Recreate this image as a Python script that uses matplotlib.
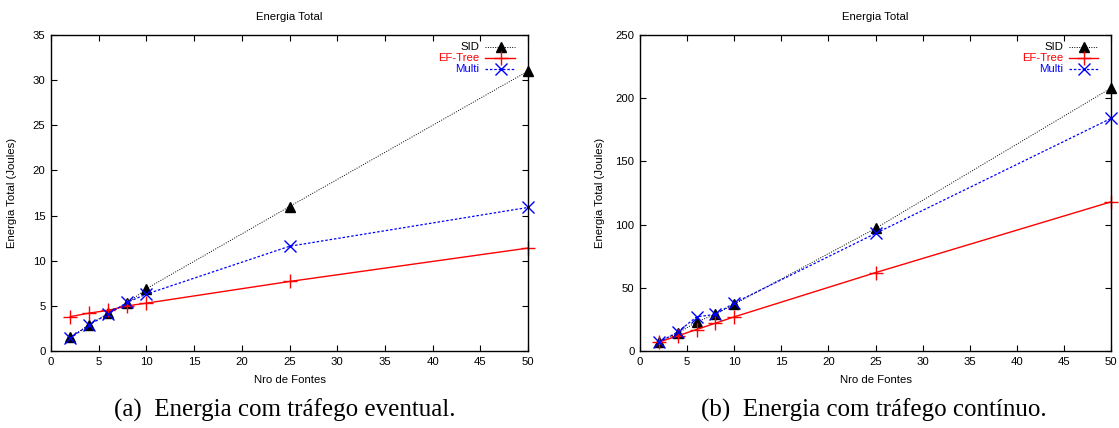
import matplotlib
matplotlib.use("Agg")
import matplotlib.pyplot as plt
from matplotlib.lines import Line2D

x_fontes = [2, 4, 6, 8, 10, 25, 50]

# (a) tráfego eventual
sid_a = [1.5, 2.9, 4.2, 5.3, 6.9, 16.0, 31.0]
eftree_a = [3.8, 4.2, 4.5, 5.0, 5.3, 7.7, 11.4]
multi_a = [1.4, 2.9, 4.1, 5.4, 6.3, 11.6, 15.9]

# (b) tráfego contínuo
sid_b = [7, 14, 23, 29, 37, 97, 208]
eftree_b = [7, 12, 17, 22, 27, 62, 118]
multi_b = [7, 15, 27, 29, 38, 93, 184]

series_names = ["SID", "EF-Tree", "Multi"]
title = "Energia Total"
xlabel = "Nro de Fontes"
ylabel = "Energia Total (Joules)"
captions = ["(a)  Energia com tráfego eventual.", "(b)  Energia com tráfego contínuo."]

plt.rcParams['font.family'] = ['Liberation Sans', 'DejaVu Sans']

fig = plt.figure(figsize=(11.19, 4.28), dpi=100)

FS = 8.2

styles = [
    dict(color='black', ls=(0, (1, 1.5)), lw=0.7, marker='^', ms=7, mfc='black', mec='black'),
    dict(color='red', ls='-', lw=1.0, marker='+', ms=10, mew=1.0),
    dict(color='blue', ls=(0, (2, 1.5)), lw=0.9, marker='x', ms=8.5, mew=1.0),
]

def draw(ax, ys, ylim, yticks, ylab_x):
    for y, st in zip(ys, styles):
        ax.plot(x_fontes, y, clip_on=False, **st)
    ax.set_xlim(0, 50)
    ax.set_ylim(*ylim)
    ax.set_xticks(range(0, 51, 5))
    ax.set_yticks(yticks)
    ax.tick_params(direction='in', length=4, width=0.8, top=True, right=True,
                   labelsize=FS, pad=4)
    for s in ax.spines.values():
        s.set_linewidth(1.0)
    ax.set_title(title, fontsize=FS, pad=11)
    ax.set_xlabel(xlabel, fontsize=FS, labelpad=6)
    ax.set_ylabel(ylabel, fontsize=FS)
    ax.yaxis.set_label_coords(ylab_x, 0.5)
    # legend (gnuplot style: right-aligned colored text, sample on the right)
    ypos = [0.962, 0.926, 0.891]
    for name, st, yy in zip(series_names, styles, ypos):
        ax.text(0.898, yy, name, transform=ax.transAxes, ha='right', va='center',
                fontsize=FS, color=st['color'])
        ln = Line2D([0.910, 0.973], [yy, yy], transform=ax.transAxes,
                    color=st['color'], ls=st['ls'], lw=st['lw'])
        ax.add_line(ln)
        mk = {k: v for k, v in st.items() if k in ('marker', 'ms', 'mfc', 'mec', 'mew')}
        ax.add_line(Line2D([0.943], [yy], transform=ax.transAxes, color=st['color'],
                           ls='none', **mk))

axL = fig.add_axes([51/1119, 77/428, 477/1119, 316/428])
draw(axL, [sid_a, eftree_a, multi_a], (0, 35), range(0, 36, 5), -34/477)
axR = fig.add_axes([640/1119, 77/428, 471/1119, 316/428])
draw(axR, [sid_b, eftree_b, multi_b], (0, 250), range(0, 251, 50), -35/471)

fig.text(285/1119, 1 - 417/428, captions[0], ha='center', va='baseline',
         fontsize=18, family=['Liberation Serif', 'DejaVu Serif'])
fig.text(874/1119, 1 - 417/428, captions[1], ha='center', va='baseline',
         fontsize=18, family=['Liberation Serif', 'DejaVu Serif'])

fig.savefig("out.png", dpi=100)
